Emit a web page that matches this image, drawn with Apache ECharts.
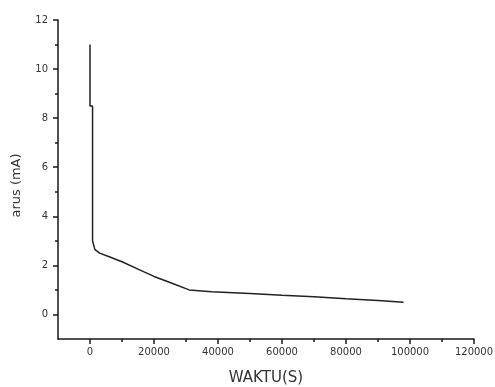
<!DOCTYPE html>
<html>
<head>
<meta charset="utf-8">
<script src="https://cdn.jsdelivr.net/npm/echarts@6/dist/echarts.min.js"></script>
<style>html,body{margin:0;padding:0;background:#fff;}#c{width:495px;height:387px;}</style>
</head>
<body>
<div id="c"></div>
<script>
// Data
const timeSeconds = [0, 0, 800, 800, 1500, 3000, 6000, 10000, 15000, 20000, 25000, 31000, 38000, 50000, 60000, 70000, 80000, 90000, 98000];
const currentMA  = [11, 8.5, 8.5, 3.0, 2.65, 2.5, 2.35, 2.15, 1.85, 1.55, 1.3, 1.0, 0.93, 0.85, 0.78, 0.72, 0.64, 0.57, 0.5];
const xMajorTicks = [0, 20000, 40000, 60000, 80000, 100000, 120000];
const xMinorTicks = [10000, 30000, 50000, 70000, 90000, 110000];
const yMajorTicks = [0, 2, 4, 6, 8, 10, 12];
const yMinorTicks = [1, 3, 5, 7, 9, 11];
const xName = 'WAKTU(S)';
const yName = 'arus (mA)';

const chart = echarts.init(document.getElementById('c'), null, {renderer: 'canvas'});
const font = 'DejaVu Sans, Liberation Sans, Arial, sans-serif';
const axisCol = '#1a1a1a';
const xBase = {
  type: 'value', min: -10000, max: 120000, splitLine: {show: false}
};
const yBase = {
  type: 'value', min: -1, max: 12, splitLine: {show: false}
};
chart.setOption({
  animation: false,
  grid: {left: 58, right: 21, top: 20, bottom: 48, containLabel: false, outerBoundsMode: 'none'},
  xAxis: [
    Object.assign({}, xBase, {
      position: 'bottom',
      name: xName, nameLocation: 'middle', nameGap: 32,
      nameTextStyle: {fontFamily: font, fontSize: 15, color: '#333'},
      axisLine: {onZero: false, lineStyle: {color: axisCol, width: 1.5}},
      axisTick: {customValues: xMajorTicks, length: 5, lineStyle: {color: axisCol, width: 1.5}},
      axisLabel: {customValues: xMajorTicks, margin: 8, fontFamily: font, fontSize: 10, color: '#333',
                  formatter: v => String(v)}
    }),
    Object.assign({}, xBase, {
      position: 'bottom',
      axisLine: {show: false, onZero: false},
      axisTick: {customValues: xMinorTicks, length: 3, lineStyle: {color: axisCol, width: 1.5}},
      axisLabel: {show: false}
    })
  ],
  yAxis: [
    Object.assign({}, yBase, {
      position: 'left',
      name: yName, nameLocation: 'middle', nameGap: 35, nameRotate: 90,
      nameTextStyle: {fontFamily: font, fontSize: 13, color: '#333', padding: [0, 0, 0, -12]},
      axisLine: {show: true, onZero: false, lineStyle: {color: axisCol, width: 1.5}},
      axisTick: {show: true, customValues: yMajorTicks, length: 5, lineStyle: {color: axisCol, width: 1.5}},
      axisLabel: {customValues: yMajorTicks, margin: 10, fontFamily: font, fontSize: 10, color: '#333',
                  formatter: v => String(v)}
    }),
    Object.assign({}, yBase, {
      position: 'left',
      axisLine: {show: false, onZero: false},
      axisTick: {show: true, customValues: yMinorTicks, length: 3, lineStyle: {color: axisCol, width: 1.5}},
      axisLabel: {show: false}
    })
  ],
  series: [{
    type: 'line',
    xAxisIndex: 0, yAxisIndex: 0,
    data: timeSeconds.map((t, i) => [t, currentMA[i]]),
    showSymbol: false,
    lineStyle: {color: '#222', width: 1.5},
    itemStyle: {color: '#222'}
  }]
});
</script>
</body>
</html>
